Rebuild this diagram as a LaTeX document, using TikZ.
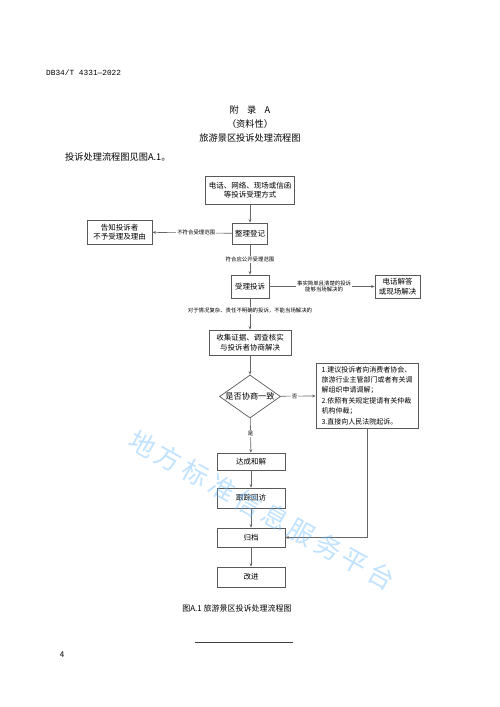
\documentclass[tikz,border=0pt]{standalone}
\usepackage{fontspec}
\setmainfont{Noto Sans CJK SC}
\newfontfamily\cjk{Noto Sans CJK SC}
\newfontfamily\hdr{Liberation Mono}
\usetikzlibrary{shapes.geometric,arrows.meta}
\begin{document}
\begin{tikzpicture}[x=1pt,y=-1pt,
  box/.style={draw=black!65,line width=0.7pt,fill=white,align=center,inner sep=1pt,font=\fontsize{7.5}{9.5}\selectfont},
  lbl/.style={fill=white,inner sep=1pt,align=center,font=\fontsize{5.4}{6.6}\selectfont},
  conn/.style={draw=black!60,line width=0.6pt,-{Stealth[length=3.5pt,width=2.8pt]}},
  plain/.style={draw=black!60,line width=0.6pt},
  txt/.style={inner sep=0pt,font=\fontsize{9.2}{11}\selectfont}]
\useasboundingbox[fill=white] (0,0) rectangle (500,707);
% header and titles
\node[inner sep=0pt,anchor=west,font=\hdr\fontsize{7.8}{9}\selectfont] (hdr) at (46,73) {DB34/T 4331—2022};
\node[txt] (t1) at (250,110) {附\hspace{0.9em}录\hspace{0.9em}A};
\node[txt] (t2) at (250,124) {（资料性）};
\node[txt] (t3) at (250,138) {旅游景区投诉处理流程图};
\node[txt,anchor=west] (intro) at (65,157) {投诉处理流程图见图A.1。};
% boxes
\node[box,minimum width=89pt,minimum height=28pt] (b1) at (250,190) {电话、网络、现场或信函\\等投诉受理方式};
\node[box,minimum width=35pt,minimum height=21pt] (reg) at (250,233.5) {整理登记};
\node[box,minimum width=65pt,minimum height=24pt] (tell) at (119.5,232) {告知投诉者\\不予受理及理由};
\node[box,minimum width=38pt,minimum height=23pt] (acc) at (250,286.5) {受理投诉};
\node[box,minimum width=45pt,minimum height=23pt] (tel) at (397.5,286.5) {电话解答\\或现场解决};
\node[box,minimum width=82pt,minimum height=25pt] (col) at (250,342.5) {收集证据、调查核实\\与投诉者协商解决};
\node[box,diamond,minimum width=61pt,minimum height=43pt,inner sep=0pt] (dec) at (250,396.5) {};
\node[inner sep=0pt,font=\fontsize{8.2}{9.5}\selectfont] (dect) at (dec.center) {是否协商一致};
\node[box,minimum width=102pt,minimum height=65pt,align=left,font=\fontsize{7}{10.4}\selectfont] (rules) at (367,395.5) {1.建议投诉者向消费者协会、\\旅游行业主管部门或者有关调\\解组织申请调解；\\2.依照有关规定提请有关仲裁\\机构仲裁；\\3.直接向人民法院起诉。};
\node[box,minimum width=68pt,minimum height=17pt] (rec) at (251,461.5) {达成和解};
\node[box,minimum width=68pt,minimum height=20pt] (fol) at (251,498) {跟踪回访};
\node[box,minimum width=68pt,minimum height=19pt] (arc) at (251,537.5) {归档};
\node[box,minimum width=68pt,minimum height=20pt] (imp) at (251,577) {改进};
% connectors
\draw[conn] (b1) -- (reg);
\draw[conn] (reg) -- node[lbl,pos=0.45] {不符合受理范围} (tell);
\draw[conn] (reg) -- node[lbl,pos=0.5] {符合应公开受理范围} (acc);
\draw[conn] (acc) -- node[lbl,pos=0.52] {事实简单且清楚的投诉\\能够当场解决的} (tel);
\draw[conn] (acc) -- node[lbl,pos=0.4] {对于情况复杂、责任不明确的投诉，不能当场解决的} (col);
\draw[conn] (col) -- (dec);
\draw[conn] (dec) -- node[lbl,pos=0.4] {否} (rules);
\draw[conn] (dec) -- node[lbl,pos=0.45] {是} (rec);
\draw[conn] (rec) -- (fol);
\draw[conn] (fol) -- (arc);
\draw[conn] (arc) -- (imp);
\draw[conn] (rules.south) |- (arc.east);
% caption, rule, page number
\node[inner sep=0pt,font=\fontsize{8}{10}\selectfont] (cap) at (237,608) {图A.1 旅游景区投诉处理流程图};
\coordinate (r1) at (195,642);
\coordinate (r2) at (293,642);
\draw[black!75,line width=0.9pt] (r1) -- (r2);
\node[inner sep=0pt,font=\fontsize{8}{10}\selectfont] (pg) at (62,655) {4};
% watermark
\node[inner sep=0pt,rotate=-29,text=blue!45!cyan!60,opacity=0.4,font=\fontsize{26}{28}\selectfont] (wm) at (262,510) {地\,方\,标\,准\,信\,息\,服\,务\,平\,台};
\end{tikzpicture}
\end{document}
